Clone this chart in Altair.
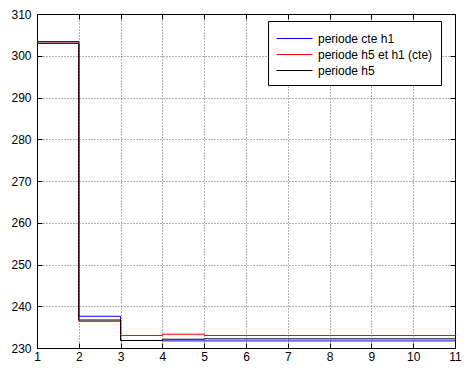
import altair as alt
import pandas as pd

# ---- data ----
x_steps = [1, 2, 3, 4, 5, 6, 7, 8, 9, 10, 11]
cte_h1 = [303.4, 237.6, 231.8, 231.7, 231.7, 231.7, 231.7, 231.7, 231.7, 231.7, 231.7]
h5_h1_cte = [303.0, 236.4, 233.0, 233.3, 233.0, 233.0, 233.0, 233.0, 233.0, 233.0, 233.0]
h5 = [303.0, 236.7, 231.8, 232.1, 232.2, 232.2, 232.2, 232.2, 232.2, 232.2, 232.2]
series_names = ["periode cte h1", "periode h5 et h1 (cte)", "periode h5"]
series_colors = ["#0000ff", "#ff0000", "#000000"]
x_ticks = [1, 2, 3, 4, 5, 6, 7, 8, 9, 10, 11]
y_ticks = [230, 240, 250, 260, 270, 280, 290, 300, 310]

rows = []
for name, vals in zip(series_names, [cte_h1, h5_h1_cte, h5]):
    for xv, yv in zip(x_steps, vals):
        rows.append({"x": xv, "y": yv, "serie": name})
df = pd.DataFrame(rows)

font = "Liberation Sans"
xscale = alt.Scale(domain=[1, 11], nice=False, zero=False)
yscale = alt.Scale(domain=[230, 310], nice=False, zero=False)

common_axis = dict(
    offset=-5, tickSize=5, tickColor="black", domain=False, title=None,
    labelFont=font, labelFontSize=12, labelColor="black", labelFlush=False,
    labelOverlap=False, gridColor="black", gridDash=[1, 2], gridOpacity=0.6,
    gridWidth=1,
)

lines = alt.Chart(df).mark_line(interpolate="step-after", strokeWidth=1, clip=True).encode(
    x=alt.X("x:Q", scale=xscale,
            axis=alt.Axis(orient="bottom", values=x_ticks, format="d", grid=True,
                          labelPadding=3, **common_axis)),
    y=alt.Y("y:Q", scale=yscale,
            axis=alt.Axis(orient="left", values=y_ticks, format="d", grid=True,
                          labelPadding=6, **common_axis)),
    stroke=alt.Stroke("serie:N", sort=series_names,
                      scale=alt.Scale(domain=series_names, range=series_colors),
                      legend=alt.Legend(orient="none", legendX=231, legendY=7, title=None,
                                        symbolType="M-1,0H3", symbolSize=324,
                                        symbolStrokeWidth=1, labelFont=font,
                                        labelFontSize=12, labelColor="black",
                                        strokeColor="black", fillColor="white",
                                        padding=8, labelOffset=23, rowPadding=0)),
)

ticks_layer = alt.Chart(df).mark_point(opacity=0).encode(
    x=alt.X("x:Q", scale=xscale,
            axis=alt.Axis(orient="top", values=x_ticks, labels=False, grid=False,
                          offset=-5, tickSize=5, tickColor="black", domain=False, title=None)),
    y=alt.Y("y:Q", scale=yscale,
            axis=alt.Axis(orient="right", values=y_ticks, labels=False, grid=False,
                          offset=-5, tickSize=5, tickColor="black", domain=False, title=None)),
)

chart = alt.layer(lines, ticks_layer).resolve_axis(
    x="independent", y="independent"
).properties(
    width=418, height=334,
    autosize=alt.AutoSizeParams(type="none"),
    padding={"left": 29, "top": 6, "right": 7, "bottom": 16},
    background="white",
).configure_view(stroke="black", strokeWidth=1)

chart.save("out.html", embed_options={"renderer": "svg", "actions": False})
